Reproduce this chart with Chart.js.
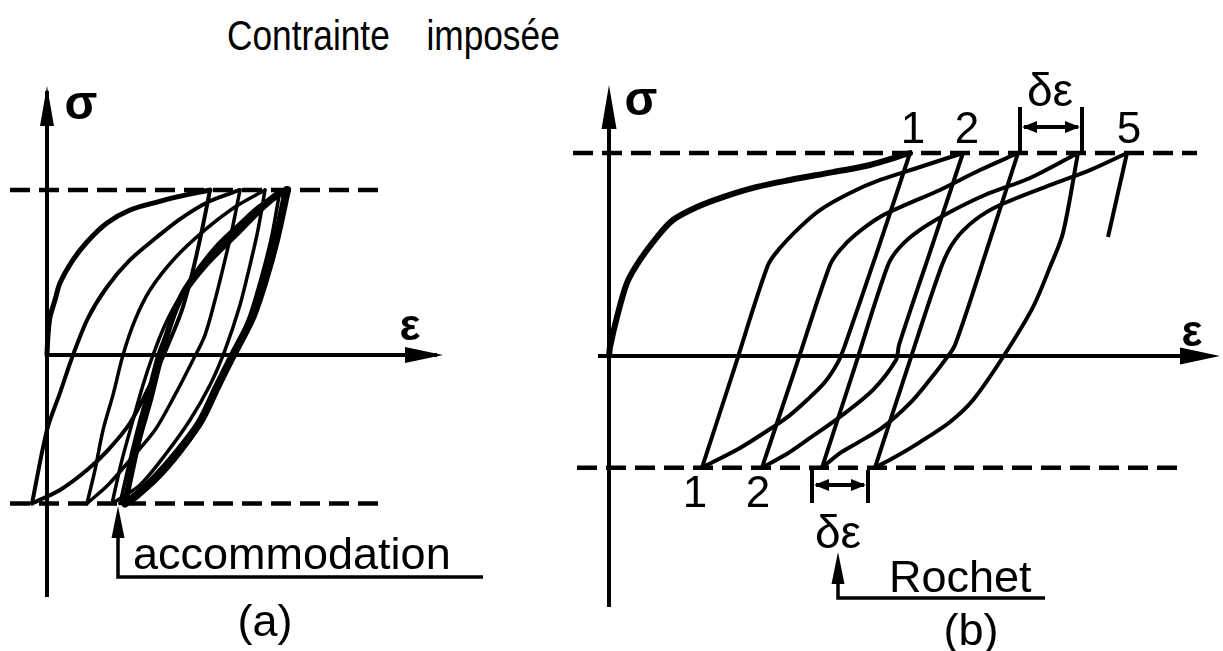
<!DOCTYPE html>
<html lang="fr">
<head>
<meta charset="UTF-8">
<title>Contrainte imposée</title>
<script src="https://cdn.jsdelivr.net/npm/chart.js"></script>
<style>
  html, body { margin: 0; padding: 0; background: #fff; }
  body { width: 1223px; height: 651px; position: relative; overflow: hidden;
         font-family: "Liberation Sans", Arial, sans-serif; color: #000; }
  .titre { position: absolute; top: 15px; font-size: 42px; line-height: 42px; white-space: nowrap;
           transform: scaleX(0.84); }
  #t1 { left: 227px; transform-origin: left top; }
  #t2 { right: 663px; transform-origin: right top; }
  canvas { position: absolute; top: 0; }
  #chartA { left: 0; }
  #chartB { left: 560px; }
</style>
</head>
<body>
<div class="titre" id="t1">Contrainte</div>
<div class="titre" id="t2">imposée</div>
<canvas id="chartA" width="560" height="651"></canvas>
<canvas id="chartB" width="663" height="651"></canvas>

<script>
// (a) accommodation -- ε en unités arbitraires, σ en % de la contrainte max imposée
const aSigLevels = [100, -90];          // contraintes max / min imposées
const aDashEps   = [-3.7, 33.1];
const aAxisVSig  = [-146.7, 160];
const aAxisHEps  = [0, 39];

const aLoad1Eps   = [0, 0.1, 0.3, 0.8, 1.3, 2.6, 4.0, 6.0, 8.3, 11.0, 13.0, 16.3];
const aLoad1Sig   = [0, 12.1, 23, 33.3, 43.6, 57.6, 68.5, 80, 87.9, 92.7, 95.8, 100];
const aUnload1Eps = [16.3, 15.5, 14.6, 13.5, 12.1, 10.3, 8.3, 6.1, 4.0, 1.3, -1.5];
const aUnload1Sig = [100, 75.8, 51.5, 27.3, 6.1, -18.2, -41.2, -57.6, -69.7, -81.8, -90];
const aReload1Eps = [-1.5, 0, 1.3, 2.6, 4.1, 6.0, 8.3, 11.0, 13.3, 16.3, 19.3];
const aReload1Sig = [-90, -45.5, -23, 0, 22.4, 41.2, 57.6, 71.5, 82.4, 93.3, 100];
const aUnload2Eps = [19.3, 18.5, 17.8, 16.8, 15.8, 14.6, 12.8, 10.8, 8.3, 6.1, 4.0];
const aUnload2Sig = [100, 75.8, 57.6, 33.3, 12.1, -3, -24.2, -45.5, -63.6, -78.8, -90];
const aReload2Eps = [4.0, 4.8, 5.6, 6.6, 7.6, 8.8, 10.3, 12.8, 15.8, 18.8, 21.8];
const aReload2Sig = [-90, -69.7, -45.5, -24.2, 0, 21.2, 39.4, 58.8, 75.8, 89.7, 100];
const aUnload3Eps = [21.8, 21.1, 20.3, 19.3, 17.8, 16.3, 14.3, 11.8, 9.3, 6.5];
const aUnload3Sig = [100, 75.8, 54.5, 30.3, 3, -18.2, -39.4, -60.6, -78.8, -90];
const aReload3Eps = [6.5, 7.5, 8.6, 9.6, 10.6, 11.8, 13.3, 15.8, 18.8, 21.1, 23.3];
const aReload3Sig = [-90, -63.6, -39.4, -18.2, 0, 18.2, 35.2, 54.5, 72.7, 89.1, 100];
const aUnload4Eps = [23.3, 22.5, 21.5, 20.3, 18.8, 17.3, 15.3, 12.8, 10.1, 7.3];
const aUnload4Sig = [100, 72.7, 48.5, 24.2, 1.8, -18.2, -42.4, -63.6, -80.6, -90];
const aReload4Eps = [7.3, 8.3, 9.3, 10.3, 11.1, 12.3, 13.7, 16.0, 18.8, 21.5, 23.8];
const aReload4Sig = [-90, -63.6, -39.4, -18.2, 0, 18.2, 36.4, 54.5, 71.5, 87.9, 100];
// boucle stabilisée
const aStableDownEps = [24.0, 22.9, 21.8, 20.5, 18.5, 17.0, 15.3, 13.0, 10.8, 9.0, 7.8];
const aStableDownSig = [100, 69.7, 45.5, 22.4, -1.2, -19.4, -40.6, -59.4, -74.5, -84.8, -90];
const aStableUpEps   = [7.8, 8.6, 9.3, 10.3, 11.3, 12.3, 13.6, 15.3, 17.0, 19.3, 21.3, 24.0];
const aStableUpSig   = [-90, -66.7, -48.5, -27.3, -3, 18.2, 37.6, 52.7, 65.5, 78.8, 89.7, 100];

// (b) rochet
const bSigLevels = [100, -55];
const bDashTopEps = [-3.6, 58.8];
const bDashBotEps = [-3.2, 57.1];
const bAxisVSig  = [-123.6, 128];
const bAxisHEps  = [-1.1, 58];

const bLoad1Eps   = [0, 0.1, 0.8, 1.8, 3.1, 4.8, 6.4, 8.8, 11.4, 14.8, 18.1, 22.4, 26.1, 30.1];
const bLoad1Sig   = [0, 4.4, 19.2, 36.0, 47.3, 58.6, 67.0, 73.4, 78.3, 83.3, 86.7, 90.6, 94.1, 100];
const bUnload1Eps = [30.1, 26.9, 23.6, 22.9, 21.6, 19.8, 18.1, 16.4, 13.1, 9.3];
const bUnload1Sig = [100, 52.7, 5.4, -3.0, -12.8, -21.7, -29.1, -35.0, -45.3, -55];
const bReload1Eps = [9.3, 12.6, 15.9, 17.1, 19.1, 21.1, 24.1, 27.1, 31.1, 35.4];
const bReload1Sig = [-55, -5.1, 44.8, 53.2, 63.5, 71.9, 80.3, 86.7, 93.1, 100];
const bUnload2Eps = [35.4, 32.2, 29.0, 28.7, 26.4, 23.1, 19.8, 17.6, 15.3];
const bUnload2Sig = [100, 52.7, 5.4, -2.0, -16.7, -30.0, -41.4, -48.8, -55];
const bReload2Eps = [15.3, 18.7, 22.1, 23.1, 24.6, 27.1, 30.1, 33.1, 37.1, 40.9];
const bReload2Sig = [-55, -5.1, 44.8, 52.2, 59.6, 68.5, 75.4, 81.8, 91.6, 100];
const bUnload3Eps = [40.9, 37.8, 34.6, 33.6, 31.9, 30.1, 27.4, 24.8, 23.1, 21.3];
const bUnload3Sig = [100, 52.7, 5.4, -2.0, -12.8, -23.2, -35.0, -42.9, -47.8, -55];
const bReload3Eps = [21.3, 24.6, 27.9, 29.1, 31.1, 34.1, 37.6, 42.1, 46.9];
const bReload3Sig = [-55, -5.1, 44.8, 53.7, 62.1, 70.9, 79.3, 87.7, 100];
const bUnload4Eps = [46.9, 45.4, 44.1, 42.4, 39.4, 36.4, 34.1, 31.1, 28.6, 26.6];
const bUnload4Sig = [100, 60.6, 43.8, 24.1, -0.5, -21.7, -32.5, -42.4, -49.8, -55];
const bReload4Eps = [26.6, 29.9, 33.3, 34.6, 36.6, 39.1, 44.1, 48.1, 51.8];
const bReload4Sig = [-55, -5.1, 44.8, 57.1, 67.0, 74.4, 84.2, 91.6, 100];
const bUnload5Eps = [51.8, 49.9];
const bUnload5Sig = [100, 58.6];

const FONT = '"Liberation Sans", Arial, sans-serif';

function pts(eps, sig) {
    return eps.map((e, i) => ({ x: e, y: sig[i] }));
}

function curve(eps, sig, w, extra) {
    return Object.assign({
        data: pts(eps, sig),
        showLine: true,
        borderColor: '#000',
        borderWidth: w,
        pointRadius: 0,
        tension: 0.3,
        fill: false,
        clip: false,
        borderCapStyle: 'round',
        borderJoinStyle: 'round'
    }, extra || {});
}

function straight(eps, sig, w) {
    return curve(eps, sig, w, { tension: 0, borderCapStyle: 'butt' });
}

function dashed(eps, s) {
    return curve(eps, [s, s], 4.5, { tension: 0, borderDash: [20, 9], borderCapStyle: 'butt' });
}

function head(ctx, x, y, dx, dy, len, w) {
    const bx = x - dx * len, by = y - dy * len;
    ctx.beginPath();
    ctx.moveTo(x, y);
    ctx.lineTo(bx - dy * w, by + dx * w);
    ctx.lineTo(bx + dy * w, by - dx * w);
    ctx.closePath();
    ctx.fill();
}

// flèches, cotes δε et textes posés en coordonnées (ε, σ)
const sketchPlugin = {
    id: 'sketch',
    afterDatasetsDraw(chart, args, opts) {
        const ctx = chart.ctx;
        const X = v => chart.scales.x.getPixelForValue(v);
        const Y = v => chart.scales.y.getPixelForValue(v);
        ctx.save();
        ctx.fillStyle = '#000';
        ctx.strokeStyle = '#000';

        (opts.heads || []).forEach(h => head(ctx, X(h.e), Y(h.s), h.dx, h.dy, h.len, h.w));

        (opts.dims || []).forEach(d => {
            ctx.lineWidth = 4;
            ctx.beginPath();
            [d.e1, d.e2].forEach(e => { ctx.moveTo(X(e), Y(d.s0)); ctx.lineTo(X(e), Y(d.s1)); });
            ctx.moveTo(X(d.e1) + 4, Y(d.sa));
            ctx.lineTo(X(d.e2) - 4, Y(d.sa));
            ctx.stroke();
            head(ctx, X(d.e1) + 2, Y(d.sa), -1, 0, 15, 6);
            head(ctx, X(d.e2) - 2, Y(d.sa), 1, 0, 15, 6);
        });

        (opts.pointers || []).forEach(p => {
            ctx.lineWidth = 3.5;
            ctx.beginPath();
            ctx.moveTo(X(p.e), Y(p.sTip) + 20);
            ctx.lineTo(X(p.e), Y(p.sLow));
            ctx.lineTo(X(p.eEnd), Y(p.sLow));
            ctx.stroke();
            head(ctx, X(p.e), Y(p.sTip), 0, -1, 32, 6.5);
        });

        (opts.labels || []).forEach(l => {
            ctx.font = (l.bold ? 'bold ' : '') + l.size + 'px ' + FONT;
            ctx.textAlign = l.align || 'center';
            ctx.textBaseline = l.base || 'alphabetic';
            ctx.fillText(l.t, X(l.e), Y(l.s));
        });
        ctx.restore();
    }
};

function makeChart(id, xr, yr, datasets, sketch) {
    return new Chart(document.getElementById(id), {
        type: 'scatter',
        data: { datasets },
        options: {
            responsive: false,
            animation: false,
            events: [],
            layout: { padding: 0 },
            scales: {
                x: { type: 'linear', min: xr[0], max: xr[1], display: false },
                y: { type: 'linear', min: yr[0], max: yr[1], display: false }
            },
            plugins: { legend: { display: false }, tooltip: { enabled: false }, sketch }
        },
        plugins: [sketchPlugin]
    });
}

makeChart('chartA', [-4.7, 51.3], [-179.4, 215.15], [
    straight([0, 0], aAxisVSig, 4),
    straight(aAxisHEps, [0, 0], 4),
    dashed(aDashEps, aSigLevels[0]),
    dashed(aDashEps, aSigLevels[1]),
    curve(aLoad1Eps, aLoad1Sig, 5),
    curve(aUnload1Eps, aUnload1Sig, 4),
    curve(aReload1Eps, aReload1Sig, 4),
    curve(aUnload2Eps, aUnload2Sig, 3.5),
    curve(aReload2Eps, aReload2Sig, 3.5),
    curve(aUnload3Eps, aUnload3Sig, 3.5),
    curve(aReload3Eps, aReload3Sig, 3.5),
    curve(aUnload4Eps, aUnload4Sig, 3.5),
    curve(aReload4Eps, aReload4Sig, 3.5),
    curve(aStableDownEps, aStableDownSig, 8),
    curve(aStableUpEps, aStableUpSig, 6)
], {
    heads: [
        { e: 0, s: 163, dx: 0, dy: -1, len: 40, w: 7 },
        { e: 39.6, s: 0, dx: 1, dy: 0, len: 38, w: 8 }
    ],
    pointers: [
        { e: 7.1, sTip: -91.5, sLow: -134.5, eEnd: 43.6 }
    ],
    labels: [
        { t: 'σ', e: 3.4, s: 150.9, size: 48, bold: true, align: 'center', base: 'middle' },
        { t: 'ε', e: 36.3, s: 16.4, size: 44, bold: true, align: 'center', base: 'middle' },
        { t: 'accommodation', e: 8.6, s: -129.7, size: 45, align: 'left' },
        { t: '(a)', e: 21.8, s: -170.3, size: 45 }
    ]
});

makeChart('chartB', [-4.9, 61.4], [-145.32, 175.37], [
    straight([0, 0], bAxisVSig, 4),
    straight(bAxisHEps, [0, 0], 4),
    dashed(bDashTopEps, bSigLevels[0]),
    dashed(bDashBotEps, bSigLevels[1]),
    curve(bLoad1Eps, bLoad1Sig, 6),
    curve(bUnload1Eps, bUnload1Sig, 4),
    curve(bReload1Eps, bReload1Sig, 4),
    curve(bUnload2Eps, bUnload2Sig, 4),
    curve(bReload2Eps, bReload2Sig, 4),
    curve(bUnload3Eps, bUnload3Sig, 4),
    curve(bReload3Eps, bReload3Sig, 4),
    curve(bUnload4Eps, bUnload4Sig, 4),
    curve(bReload4Eps, bReload4Sig, 4),
    straight(bUnload5Eps, bUnload5Sig, 4)
], {
    heads: [
        { e: 0, s: 133.5, dx: 0, dy: -1, len: 44, w: 7.5 },
        { e: 61.1, s: 0, dx: 1, dy: 0, len: 40, w: 8.5 }
    ],
    dims: [
        { e1: 41.1, e2: 47.3, s0: 100, s1: 122.7, sa: 112.8 },
        { e1: 20.3, e2: 25.9, s0: -56.2, s1: -72.4, sa: -63.5 }
    ],
    pointers: [
        { e: 22.9, sTip: -96.6, sLow: -119.2, eEnd: 43.6 }
    ],
    labels: [
        { t: 'σ', e: 3.2, s: 125.1, size: 48, bold: true, align: 'center', base: 'middle' },
        { t: 'ε', e: 58.3, s: 10.8, size: 44, bold: true, align: 'center', base: 'middle' },
        { t: '1', e: 30.4, s: 104.9, size: 44 },
        { t: '2', e: 35.8, s: 104.9, size: 44 },
        { t: '5', e: 52.0, s: 104.9, size: 44 },
        { t: 'δε', e: 44.1, s: 123.2, size: 46 },
        { t: '1', e: 8.6, s: -74.4, size: 44 },
        { t: '2', e: 14.9, s: -74.4, size: 44 },
        { t: 'δε', e: 22.9, s: -94.6, size: 46 },
        { t: 'Rochet', e: 28.0, s: -116.3, size: 45, align: 'left' },
        { t: '(b)', e: 36.2, s: -142.4, size: 45 }
    ]
});
</script>
</body>
</html>
